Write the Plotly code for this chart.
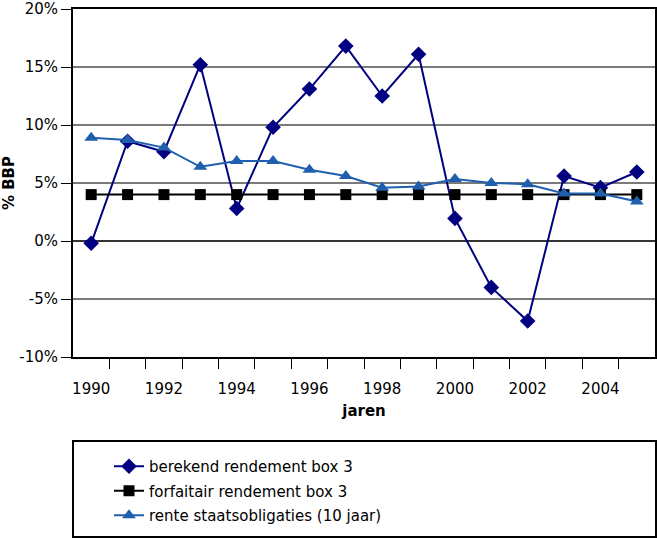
import plotly.graph_objects as go

years = list(range(1990, 2006))
berekend = [-0.2, 8.6, 7.7, 15.2, 2.8, 9.8, 13.1, 16.8, 12.5, 16.1, 1.95, -4.0, -6.9, 5.6, 4.6, 5.95]
forfaitair = [4.0] * 16
rente = [8.9, 8.7, 8.05, 6.4, 6.9, 6.9, 6.15, 5.6, 4.6, 4.7, 5.35, 5.0, 4.9, 4.1, 4.1, 3.4]
label_years = list(range(1990, 2005, 2))
y_ticks = [-10, -5, 0, 5, 10, 15, 20]

FONT = "DejaVu Sans"
FS = 15
W, H = 657, 538
L, R, T, B = 73, 2, 9, 181
pw, ph = W - L - R, H - T - B

def px_to_paper_x(px):
    return (px - L) / pw

def py_to_paper_y(py):
    return (H - B - py) / ph

fig = go.Figure()
fig.add_trace(go.Scatter(x=years, y=berekend, name="berekend rendement box 3",
                         mode="lines+markers", legendgroup="a",
                         line=dict(color="#000080", width=2),
                         marker=dict(symbol="diamond", size=12, color="#000080")))
fig.add_trace(go.Scatter(x=years, y=forfaitair, name="forfaitair rendement box 3",
                         mode="lines+markers", legendgroup="b",
                         line=dict(color="#000000", width=2),
                         marker=dict(symbol="square", size=11, color="#000000")))
fig.add_trace(go.Scatter(x=years, y=rente, name="rente staatsobligaties (10 jaar)",
                         mode="lines+markers", legendgroup="c",
                         line=dict(color="#1f5fae", width=2),
                         marker=dict(symbol="triangle-up", size=12, color="#1f5fae")))

# black -5% reference line
fig.add_shape(type="line", xref="paper", yref="y", x0=0, x1=1, y0=-5, y1=-5,
              line=dict(color="#000000", width=1.5), layer="between")
# legend frame
fig.add_shape(type="rect", xref="paper", yref="paper",
              x0=px_to_paper_x(73), x1=px_to_paper_x(656),
              y0=py_to_paper_y(441), y1=py_to_paper_y(537),
              line=dict(color="#000000", width=2))

fig.update_layout(
    width=W, height=H,
    margin=dict(l=L, r=R, t=T, b=B),
    paper_bgcolor="white", plot_bgcolor="white",
    font=dict(family=FONT, size=FS, color="#000000"),
    showlegend=True,
    legend=dict(x=px_to_paper_x(109), y=py_to_paper_y(450), xanchor="left", yanchor="top",
                bgcolor="rgba(0,0,0,0)", borderwidth=0, tracegroupgap=2,
                font=dict(family=FONT, size=FS, color="#000000")),
)
fig.update_xaxes(
    range=[1989.5, 2005.5], tickvals=label_years, ticktext=[str(y) for y in label_years],
    ticks="outside", ticklen=17, tickcolor="rgba(0,0,0,0)",
    minor=dict(tickvals=[y + 0.5 for y in range(1990, 2005)], ticks="outside",
               ticklen=10, tickcolor="#000000", tickwidth=1, showgrid=False),
    showgrid=False, zeroline=False, automargin=False,
    showline=True, linecolor="#000000", linewidth=2, mirror=True,
    title=dict(text="<b>jaren</b>", standoff=8, font=dict(family=FONT, size=FS)),
    tickfont=dict(family=FONT, size=FS),
)
fig.update_yaxes(
    range=[-10, 20], tickvals=y_ticks, ticktext=[f"{v}%" for v in y_ticks],
    ticks="outside", ticklen=10, tickcolor="#000000", tickwidth=1,
    ticklabeloverflow="allow", automargin=False,
    showgrid=True, gridcolor="#7a7a7a", gridwidth=2,
    zeroline=True, zerolinecolor="#333333", zerolinewidth=2,
    showline=True, linecolor="#000000", linewidth=2, mirror=True,
    title=dict(text="<b>% BBP</b>", standoff=6, font=dict(family=FONT, size=FS)),
    tickfont=dict(family=FONT, size=FS),
)

fig.write_html("out.html")
